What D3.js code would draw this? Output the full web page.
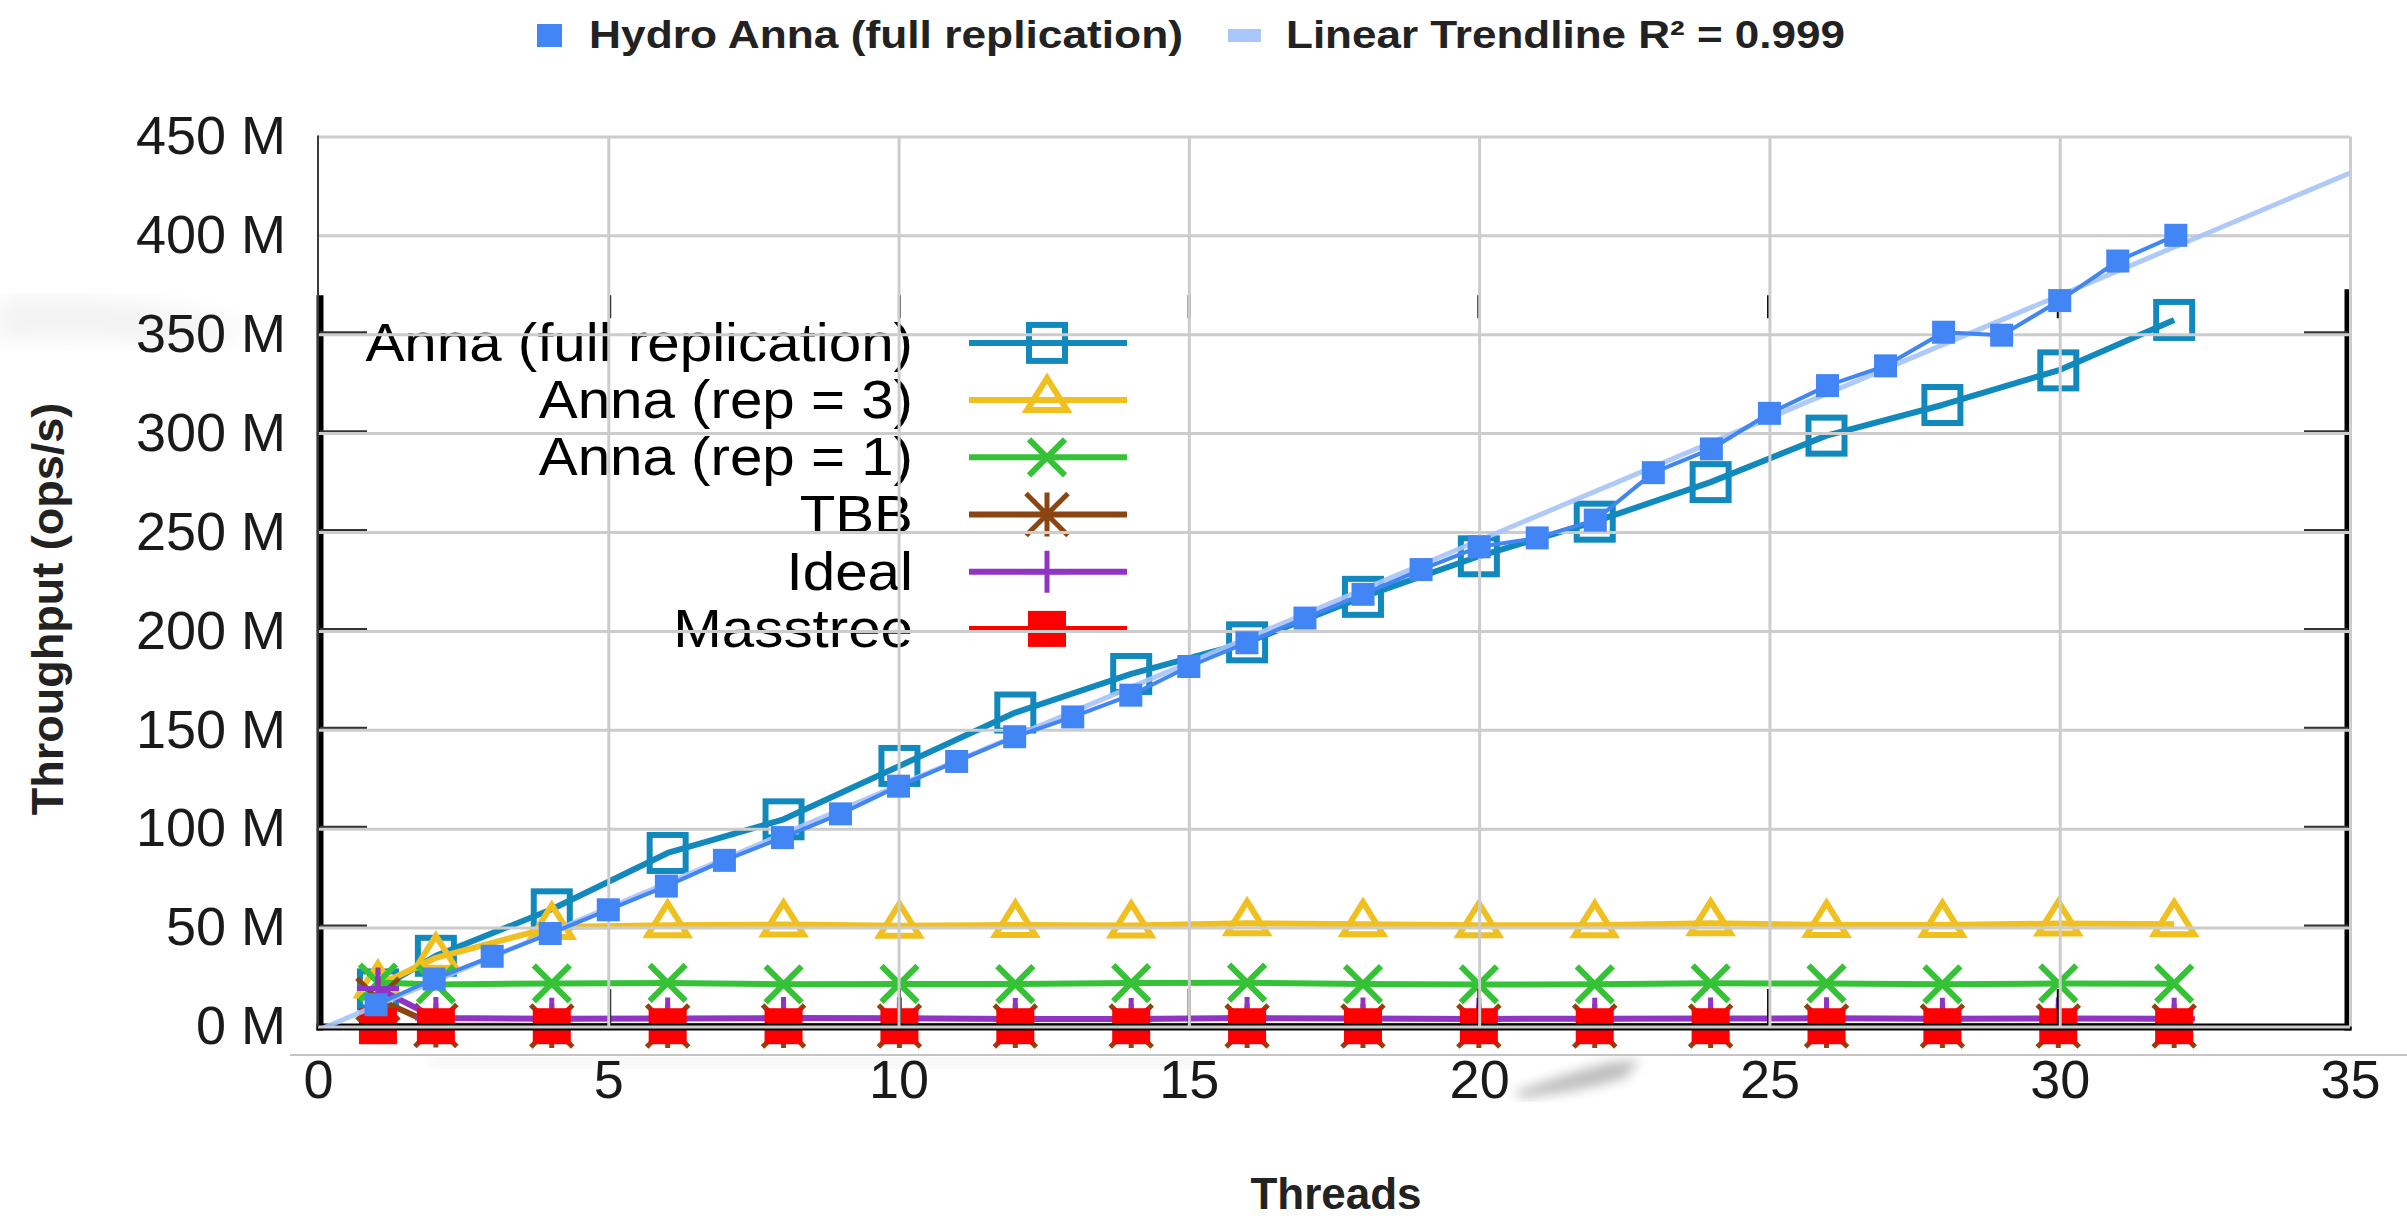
<!DOCTYPE html>
<html><head><meta charset="utf-8">
<script src="https://cdn.jsdelivr.net/npm/d3@7"></script>
<style>html,body{margin:0;padding:0;background:#fff;} svg{display:block;}</style>
</head><body><svg id="c" width="2407" height="1224"></svg>
<script>
// ---------------- DATA ----------------
const hydroThreads = [1,2,3,4,5,6,7,8,9,10,11,12,13,14,15,16,17,18,19,20,21,22,23,24,25,26,27,28,29,30,31,32];
const hydroAnna = [11,24,35.5,47,59,71,84,95.5,107.5,121.5,134,146.5,156.5,167.5,182,194,206.5,218.5,231,242.5,247,256,280,292,310,324,334,351,349.5,367,387,400];
const trendThreads = [0, 35];
const trendValues = [-1.9, 431.5];

const gnuThreads = [1,2,4,6,8,10,12,14,16,18,20,22,24,26,28,30,32];
const annaFull = [19,36,59.5,88,105,132,159,178.5,194.5,217.5,238,255.5,275.5,299,314.5,332,357.5];
const annaRep3 = [21,35,50.5,51.5,51.8,51.2,51.6,51.3,52.4,52.0,51.5,51.4,52.4,51.6,51.6,52.3,52.0];
const annaRep1 = [22.5,21.5,22,22.3,21.6,21.8,21.7,22.2,22.4,21.7,21.5,21.6,22.1,22,21.6,22,21.9];
const tbb      = [14,0.8,0.5,0.5,0.5,0.5,0.5,0.5,0.5,0.5,0.5,0.5,0.5,0.5,0.5,0.5,0.5];
const ideal    = [19.5,4.5,4.2,4.3,4.5,4.4,4.1,4.0,4.5,4.3,4.1,4.2,4.3,4.4,4.2,4.3,4.2];
const masstree = [0.4,0.4,0.4,0.4,0.4,0.4,0.4,0.4,0.4,0.4,0.4,0.4,0.4,0.4,0.4,0.4,0.4];

const yTickValues = [0,50,100,150,200,250,300,350,400,450];
const yTickLabels = ["0 M","50 M","100 M","150 M","200 M","250 M","300 M","350 M","400 M","450 M"];
const xTickValues = [0,5,10,15,20,25,30,35];
const xTickLabels = ["0","5","10","15","20","25","30","35"];
const gnuYTicks = [50,100,150,200,250,300,350];
const gnuXTicks = [5,10,15,20,25,30];
const topLegendLabels = ["Hydro Anna (full replication)", "Linear Trendline R\u00B2 = 0.999"];
const gnuLegendLabels = ["Anna (full replication)","Anna (rep = 3)","Anna (rep = 1)","TBB","Ideal","Masstree"];
const xTitle = "Threads";
const yTitle = "Throughput (ops/s)";

// ---------------- SETUP ----------------
const svg = d3.select("#c");
const FONT = "'Liberation Sans', Arial, Helvetica, sans-serif";
const PL = 318, PR = 2350, PT = 136.4, PB = 1026.5;
const x = d3.scaleLinear().domain([0,35]).range([PL, PR]);
const y = d3.scaleLinear().domain([0,450]).range([PB, PT]);
// overlaid (pasted) gnuplot figure has its own, nearly identical, frame
const gx = d3.scaleLinear().domain([0,35]).range([320, 2348]);
const gy = d3.scaleLinear().domain([0,450]).range([1027, 137]);

const defs = svg.append("defs");
defs.append("filter").attr("id","blur").append("feGaussianBlur").attr("stdDeviation", 6);
defs.append("filter").attr("id","blur2").append("feGaussianBlur").attr("stdDeviation", 12);
defs.append("clipPath").attr("id","plotclip").append("rect")
  .attr("x", PL).attr("y", PT).attr("width", PR-PL).attr("height", PB-PT);

svg.append("rect").attr("width",2407).attr("height",1224).attr("fill","#fff");

// faint smudges of the pasted image
svg.append("path").attr("d","M1515,1092 Q1560,1075 1610,1062 L1640,1060 L1625,1078 Q1580,1092 1520,1098 Z")
  .attr("fill","#8a8a8a").attr("opacity",0.55).attr("filter","url(#blur)");
svg.append("path").attr("d","M0,300 Q120,290 250,330 Q200,350 120,340 Q50,330 0,345 Z")
  .attr("fill","#ececec").attr("opacity",0.7).attr("filter","url(#blur2)");
svg.append("rect").attr("x",430).attr("y",1058).attr("width",780).attr("height",10)
  .attr("fill","#ededed").attr("opacity",0.6).attr("filter","url(#blur)");

// light gray edge line of the pasted picture
svg.append("line").attr("x1",290).attr("x2",2407).attr("y1",1055).attr("y2",1055)
  .attr("stroke","#c4c4c4").attr("stroke-width",2);

// ---------------- GNUPLOT LAYER ----------------
const G = svg.append("g");
const series = [
  {name: gnuLegendLabels[0], vals: annaFull, color: "#1189bd", marker: "hsquare"},
  {name: gnuLegendLabels[1], vals: annaRep3, color: "#f0c020", marker: "triangle"},
  {name: gnuLegendLabels[2], vals: annaRep1, color: "#36c236", marker: "x"},
  {name: gnuLegendLabels[3], vals: tbb,      color: "#8b4513", marker: "star"},
  {name: gnuLegendLabels[4], vals: ideal,    color: "#9034c4", marker: "plus"},
  {name: gnuLegendLabels[5], vals: masstree, color: "#ff0000", marker: "fsquare"}
];

function drawMarker(g, type, cx, cy, color) {
  if (type === "hsquare") {
    g.append("rect").attr("x",cx-18).attr("y",cy-18).attr("width",36).attr("height",36)
      .attr("fill","none").attr("stroke",color).attr("stroke-width",6);
  } else if (type === "triangle") {
    g.append("path").attr("d",`M${cx},${cy-22}L${cx+20},${cy+10}L${cx-20},${cy+10}Z`)
      .attr("fill","none").attr("stroke",color).attr("stroke-width",6).attr("stroke-linejoin","miter");
  } else if (type === "x") {
    g.append("path").attr("d",`M${cx-18},${cy-18}L${cx+18},${cy+18}M${cx+18},${cy-18}L${cx-18},${cy+18}`)
      .attr("stroke",color).attr("stroke-width",6);
  } else if (type === "star") {
    g.append("path").attr("d",`M${cx-21},${cy-21}L${cx+21},${cy+21}M${cx+21},${cy-21}L${cx-21},${cy+21}M${cx},${cy-22}L${cx},${cy+22}`)
      .attr("stroke",color).attr("stroke-width",5);
  } else if (type === "plus") {
    g.append("path").attr("d",`M${cx},${cy-21}L${cx},${cy+21}M${cx-21},${cy}L${cx+21},${cy}`)
      .attr("stroke",color).attr("stroke-width",5);
  } else if (type === "fsquare") {
    g.append("rect").attr("x",cx-19).attr("y",cy-18).attr("width",38).attr("height",36)
      .attr("fill",color);
  }
}

series.forEach(s => {
  const line = d3.line().x((d,i)=>gx(gnuThreads[i])).y(d=>gy(d));
  G.append("path").attr("d", line(s.vals)).attr("fill","none")
    .attr("stroke", s.color).attr("stroke-width",6).attr("stroke-linejoin","round");
  const mg = G.append("g");
  s.vals.forEach((v,i) => drawMarker(mg, s.marker, gx(gnuThreads[i]), gy(v), s.color));
});

// gnuplot border (left, right, bottom) and ticks, drawn in front
const frameTop = gy(370);
G.append("line").attr("x1",gx(0)).attr("x2",gx(0)).attr("y1",frameTop).attr("y2",gy(0)+3.5)
  .attr("stroke","#000").attr("stroke-width",7);
G.append("line").attr("x1",gx(35)).attr("x2",gx(35)).attr("y1",frameTop-6).attr("y2",gy(0)+3.5)
  .attr("stroke","#000").attr("stroke-width",7);
G.append("line").attr("x1",gx(0)-3.5).attr("x2",gx(35)+3.5).attr("y1",gy(0)).attr("y2",gy(0))
  .attr("stroke","#000").attr("stroke-width",7);
gnuYTicks.forEach(v => {
  G.append("line").attr("x1",gx(0)).attr("x2",gx(0)+47).attr("y1",gy(v)-2).attr("y2",gy(v)-2)
    .attr("stroke","#333").attr("stroke-width",3);
  G.append("line").attr("x1",gx(35)-44).attr("x2",gx(35)).attr("y1",gy(v)-2).attr("y2",gy(v)-2)
    .attr("stroke","#333").attr("stroke-width",3);
});
gnuXTicks.forEach(v => {
  G.append("line").attr("x1",gx(v)).attr("x2",gx(v)).attr("y1",gy(0)).attr("y2",gy(0)-38)
    .attr("stroke","#000").attr("stroke-width",3);
  G.append("line").attr("x1",gx(v)).attr("x2",gx(v)).attr("y1",frameTop).attr("y2",frameTop+23)
    .attr("stroke","#000").attr("stroke-width",3);
});

// gnuplot key
const keyTop = 342.9, keyStep = 57.2, keyTextRight = 913, keyL = 969, keyR = 1127, keyM = 1047;
series.forEach((s,i) => {
  const ly = keyTop + i*keyStep;
  G.append("text").attr("transform",`translate(${keyTextRight},${ly+18}) scale(1.1,1)`)
    .attr("text-anchor","end").attr("font-family",FONT).attr("font-size",53)
    .attr("fill","#000").text(s.name);
  G.append("line").attr("x1",keyL).attr("x2",keyR).attr("y1",ly).attr("y2",ly)
    .attr("stroke",s.color).attr("stroke-width",6);
  drawMarker(G, s.marker, keyM, ly, s.color);
});

// ---------------- GOOGLE CHART LAYER ----------------
const C = svg.append("g");
// gridlines
const gridY = C.append("g").attr("transform",`translate(${PL},0)`)
  .call(d3.axisLeft(y).tickValues(yTickValues).tickSize(-(PR-PL)).tickFormat(""));
gridY.select(".domain").remove();
gridY.selectAll("line").attr("stroke","#cccccc").attr("stroke-width",3);
const gridX = C.append("g").attr("transform",`translate(0,${PB})`)
  .call(d3.axisBottom(x).tickValues(xTickValues.slice(1)).tickSize(-(PB-PT)).tickFormat(""));
gridX.select(".domain").remove();
gridX.selectAll("line").attr("stroke","#cccccc").attr("stroke-width",3);
// baseline at x = 0
C.append("line").attr("x1",x(0)).attr("x2",x(0)).attr("y1",PT-1).attr("y2",PB)
  .attr("stroke","#3a3a3a").attr("stroke-width",2);

// trendline
const tline = d3.line().x((d,i)=>x(trendThreads[i])).y(d=>y(d));
C.append("path").attr("d", tline(trendValues)).attr("clip-path","url(#plotclip)")
  .attr("fill","none").attr("stroke","#a6c4f8").attr("stroke-width",5).attr("opacity",0.9);

// Hydro Anna series
const hline = d3.line().x((d,i)=>x(hydroThreads[i])).y(d=>y(d));
C.append("path").attr("d", hline(hydroAnna)).attr("fill","none")
  .attr("stroke","#4285f4").attr("stroke-width",4).attr("stroke-linejoin","round");
C.append("g").selectAll("rect").data(hydroAnna).join("rect")
  .attr("x",(d,i)=>x(hydroThreads[i])-11.5).attr("y",d=>y(d)-11.5)
  .attr("width",23).attr("height",23).attr("fill","#4285f4");

// axis labels
const axY = C.append("g").attr("transform",`translate(${PL},0)`)
  .call(d3.axisLeft(y).tickValues(yTickValues).tickSize(0).tickPadding(32)
    .tickFormat((d,i)=>yTickLabels[i]));
axY.select(".domain").remove();
axY.selectAll("text").attr("font-family",FONT).attr("font-size",54).attr("fill","#1a1a1a");
const axX = C.append("g").attr("transform",`translate(0,${PB})`)
  .call(d3.axisBottom(x).tickValues(xTickValues).tickSize(0).tickPadding(33)
    .tickFormat((d,i)=>xTickLabels[i]));
axX.select(".domain").remove();
axX.selectAll("text").attr("font-family",FONT).attr("font-size",54).attr("fill","#1a1a1a");

// axis titles
C.append("text").attr("x",1336).attr("y",1209).attr("text-anchor","middle")
  .attr("font-family",FONT).attr("font-weight","bold").attr("font-size",44)
  .attr("fill","#222").text(xTitle);
C.append("text").attr("transform","translate(63,609) rotate(-90)").attr("text-anchor","middle")
  .attr("font-family",FONT).attr("font-weight","bold").attr("font-size",45)
  .attr("fill","#222").text(yTitle);

// top legend
C.append("rect").attr("x",537).attr("y",24).attr("width",25).attr("height",23).attr("fill","#4285f4");
C.append("text").attr("x",589).attr("y",48).attr("font-family",FONT).attr("font-weight","bold")
  .attr("font-size",39).attr("fill","#222").attr("textLength",594).attr("lengthAdjust","spacingAndGlyphs")
  .text(topLegendLabels[0]);
C.append("rect").attr("x",1228).attr("y",29).attr("width",33).attr("height",13).attr("fill","#a8c7fa");
C.append("text").attr("x",1286).attr("y",48).attr("font-family",FONT).attr("font-weight","bold")
  .attr("font-size",39).attr("fill","#222").attr("textLength",559).attr("lengthAdjust","spacingAndGlyphs")
  .text(topLegendLabels[1]);
</script>
</body></html>
